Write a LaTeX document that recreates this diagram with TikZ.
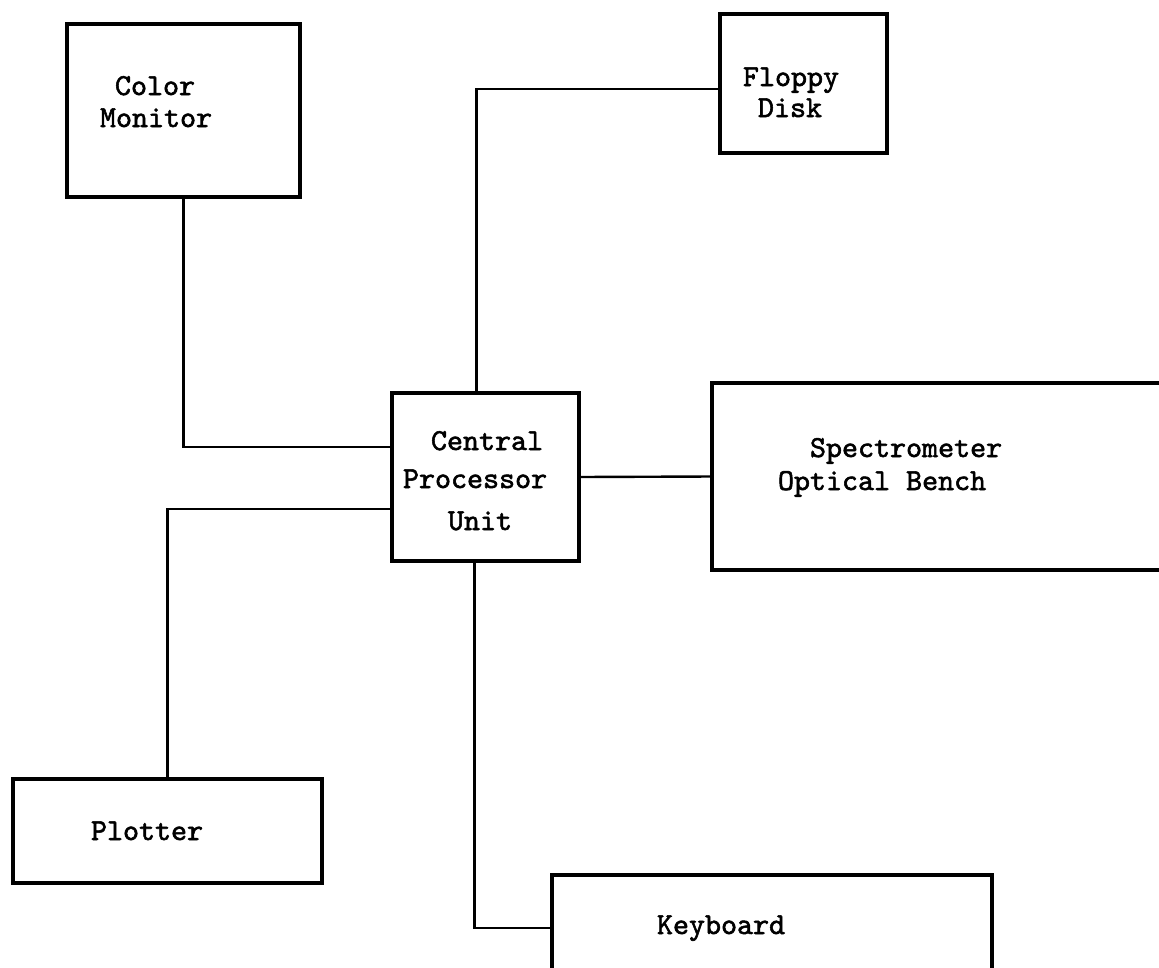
\documentclass[tikz,border=0pt]{standalone}
\usepackage{fontspec}
\newfontfamily\tw{lmmono10-regular.otf}[FakeBold=1.8]
\begin{document}
\begin{tikzpicture}[x=1pt,y=-1pt,
  box/.style={draw=black, line width=3.2pt, inner sep=0pt, outer sep=0pt, fill=white},
  wire/.style={draw=black, line width=2.4pt},
  lbl/.style={inner sep=0pt, outer sep=0pt, anchor=base west, font=\tw\fontsize{30.5}{30}\selectfont}]
\useasboundingbox[fill=white] (0,0) rectangle (1159,967);
% boxes
\node[box, minimum width=233pt, minimum height=173pt] (cm)  at (183.5,110.5) {};
\node[box, minimum width=167pt, minimum height=139pt] (fd)  at (803.5,83.5) {};
\node[box, minimum width=187pt, minimum height=168pt] (cpu) at (485.5,477) {};
\node[box, minimum width=463pt, minimum height=187pt] (sob) at (943.5,476.5) {};
\node[box, minimum width=309pt, minimum height=104pt] (pl)  at (167.5,831) {};
\node[box, minimum width=440pt, minimum height=95pt]  (kb)  at (772,922.5) {};
% connectors
\draw[wire] (cm.south) |- ([yshift=30pt]cpu.west);
\draw[wire] ([xshift=-9pt]cpu.north) |- ([yshift=-5.5pt]fd.west);
\draw[wire] (cpu.east) -- (sob.west);
\draw[wire] ([yshift=-32pt]cpu.west) -| (pl.north);
\draw[wire] ([xshift=-11pt]cpu.south) |- ([yshift=-5.5pt]kb.west);
% labels
\node[lbl] (t1) at (115,95) {Color};
\node[lbl] (t2) at (100,127) {Monitor};
\node[lbl] (t3) at (743,86) {Floppy};
\node[lbl] (t4) at (758,117) {Disk};
\node[lbl] (t5) at (431,450) {Central};
\node[lbl] (t6) at (403,488) {Processor};
\node[lbl] (t7) at (448,530) {Unit};
\node[lbl] (t8) at (810,457) {Spectrometer};
\node[lbl] (t9) at (778,490) {Optical Bench};
\node[lbl] (t10) at (91,840) {Plotter};
\node[lbl] (t11) at (657,934) {Keyboard};
\end{tikzpicture}
\end{document}
